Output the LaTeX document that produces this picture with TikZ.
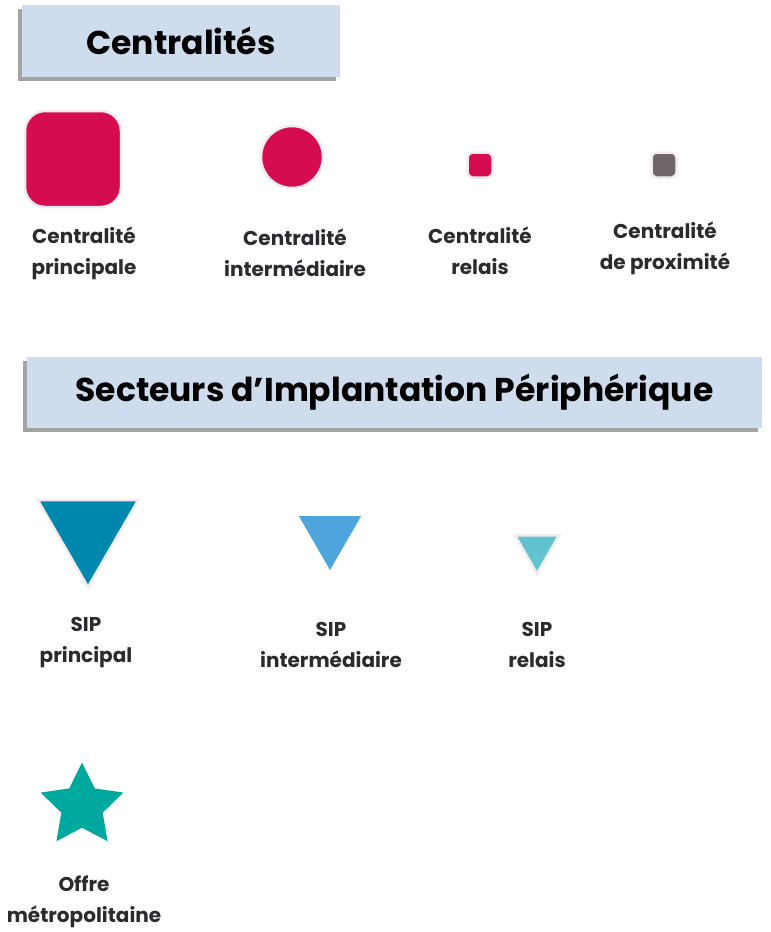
\documentclass[tikz,border=0pt]{standalone}
\usepackage{fontspec}
\setmainfont{Poppins}
\usepackage{tikz}
\usetikzlibrary{positioning,shapes.geometric,shadows}

\definecolor{boxblue}{HTML}{CFDCEE}
\definecolor{framboise}{HTML}{D60C52}
\definecolor{grisprox}{HTML}{6E6668}
\definecolor{sipun}{HTML}{0087AD}
\definecolor{sipdeux}{HTML}{4EA6DC}
\definecolor{siptrois}{HTML}{62C2D0}
\definecolor{metro}{HTML}{00A99D}
\definecolor{halo}{HTML}{F2ECEC}
\definecolor{texte}{HTML}{2B2B2F}

\tikzset{
  titlebox/.style={fill=boxblue, inner sep=0pt,
    drop shadow={shadow xshift=-4pt, shadow yshift=-4pt, fill=black!45, opacity=.8},
    font=\fontsize{33}{40}\selectfont\bfseries},
  legend/.style={align=center, text=texte, font=\fontsize{20}{31}\selectfont\bfseries},
  puce/.style={draw=halo, line width=2.5pt, inner sep=0pt},
  tri/.style={puce, regular polygon, regular polygon sides=3, shape border rotate=180}
}

\begin{document}
\begin{tikzpicture}[x=1pt,y=-1pt]
\useasboundingbox (0,0) rectangle (771,932);
% titres
\node[titlebox, minimum width=318pt, minimum height=72pt] (tcentre) at (181,41) {Centralités};
\node[titlebox, minimum width=735pt, minimum height=71pt] (tsip) at (394.5,392.5) {Secteurs d’Implantation Périphérique};

% centralites
	\node[puce, fill=framboise, rectangle, rounded corners=20pt, minimum size=96pt] (cprinc) at (73,159) {};
	\node[puce, fill=framboise, circle, minimum size=62pt] (cinter) at (292,157) {};
	\node[puce, fill=framboise, rectangle, rounded corners=5pt, minimum size=25pt] (crelais) at (480,165) {};
	\node[puce, fill=grisprox, rectangle, rounded corners=5pt, minimum size=25pt] (cprox) at (664,165) {};

	\node[legend] (lprinc) at (84,253) {Centralité\\principale};
	\node[legend] (linter) at (295,253) {Centralité\\intermédiaire};
	\node[legend] (lrelais) at (480,251) {Centralité\\relais};
	\node[legend] (lprox) at (665,248) {Centralité\\de proximité};

% SIP
	\node[tri, fill=sipun, minimum size=116pt] (sprinc) at (88,529) {};
	\node[tri, fill=sipdeux, draw=none, minimum size=72pt] (sinter) at (330,534) {};
	\node[tri, fill=siptrois, minimum size=51pt] (srelais) at (537,548) {};

	\node[legend] (lsprinc) at (86,643) {SIP\\principal};
	\node[legend] (lsinter) at (331,645) {SIP\\intermédiaire};
	\node[legend] (lsrelais) at (537,645) {SIP\\relais};

% offre metropolitaine
	\node[star, star points=5, star point ratio=2, fill=metro, inner sep=0pt, minimum size=87pt] (smetro) at (82,806) {};
	\node[legend] (lmetro) at (84,902) {Offre\\métropolitaine};
\end{tikzpicture}
\end{document}
